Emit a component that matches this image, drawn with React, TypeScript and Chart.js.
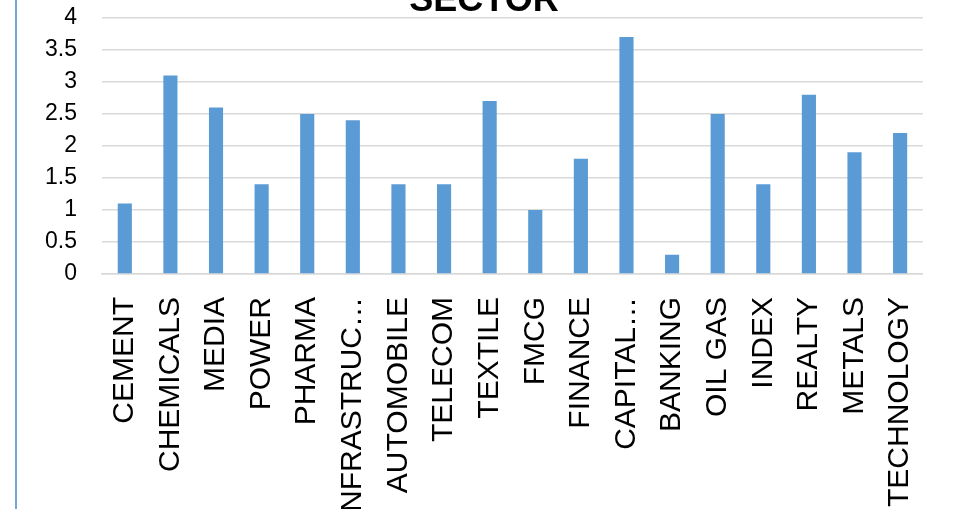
import React, { useEffect, useRef } from "react";
import { Chart, registerables } from "chart.js";

Chart.register(...registerables);

const categories = [
  "CEMENT", "CHEMICALS", "MEDIA", "POWER", "PHARMA", "INFRASTRUC…", "AUTOMOBILE", "TELECOM",
  "TEXTILE", "FMCG", "FINANCE", "CAPITAL…", "BANKING", "OIL GAS", "INDEX", "REALTY", "METALS", "TECHNOLOGY",
];
const values = [1.1, 3.1, 2.6, 1.4, 2.5, 2.4, 1.4, 1.4, 2.7, 1.0, 1.8, 3.7, 0.3, 2.5, 1.4, 2.8, 1.9, 2.2];
const yMin = 0;
const yMax = 4;
const yStep = 0.5;
const titleText = "SECTOR";

const TOP_SHIFT = 21;
const W = 960;
const H = 509 + TOP_SHIFT;

export default function App() {
  const ref = useRef<HTMLCanvasElement | null>(null);
  useEffect(() => {
    if (!ref.current) return;
    const chart = new Chart(ref.current, {
      type: "bar",
      data: {
        labels: categories,
        datasets: [
          {
            data: values,
            backgroundColor: "#5B9BD5",
            borderWidth: 0,
            barPercentage: 0.31,
            categoryPercentage: 1,
          },
        ],
      },
      options: {
        animation: false,
        responsive: false,
        layout: { padding: { left: 40, right: 32, top: 0, bottom: 0 } },
        plugins: {
          legend: { display: false },
          tooltip: { enabled: false },
          title: {
            display: true,
            text: titleText,
            color: "#000",
            font: { family: "Liberation Sans", size: 36, weight: "bold", lineHeight: 0.94 },
            padding: { top: 0, bottom: 0 },
          },
        },
        scales: {
          x: {
            grid: { display: false, drawTicks: false },
            border: { display: true, color: "#d9d9d9", width: 1.5 },
            afterFit: (scale: any) => {
              scale.height = 235;
            },
            ticks: {
              maxRotation: 90,
              minRotation: 90,
              autoSkip: false,
              padding: 23,
              color: "#000",
              font: { family: "Liberation Sans", size: 30 },
            },
          },
          y: {
            min: yMin,
            max: yMax,
            grid: { color: "#d9d9d9", lineWidth: 1.5, drawTicks: false },
            border: { display: false },
            afterFit: (scale: any) => {
              scale.width = 62;
            },
            ticks: {
              stepSize: yStep,
              autoSkip: false,
              padding: 25,
              color: "#000",
              font: { family: "Liberation Sans", size: 23 },
              callback: (v: any) => String(Number(v)),
            },
          },
        },
      },
    });
    return () => chart.destroy();
  }, []);
  return (
    <div style={{ position: "fixed", left: 0, top: 0, width: W, height: 509, overflow: "hidden", background: "#fff" }}>
      <div style={{ position: "absolute", left: 15, top: 0, width: 2, height: 509, background: "#6fa6dc" }} />
      <canvas
        ref={ref}
        width={W}
        height={H}
        style={{ position: "absolute", left: 0, top: -TOP_SHIFT, width: W, height: H }}
      />
    </div>
  );
}
